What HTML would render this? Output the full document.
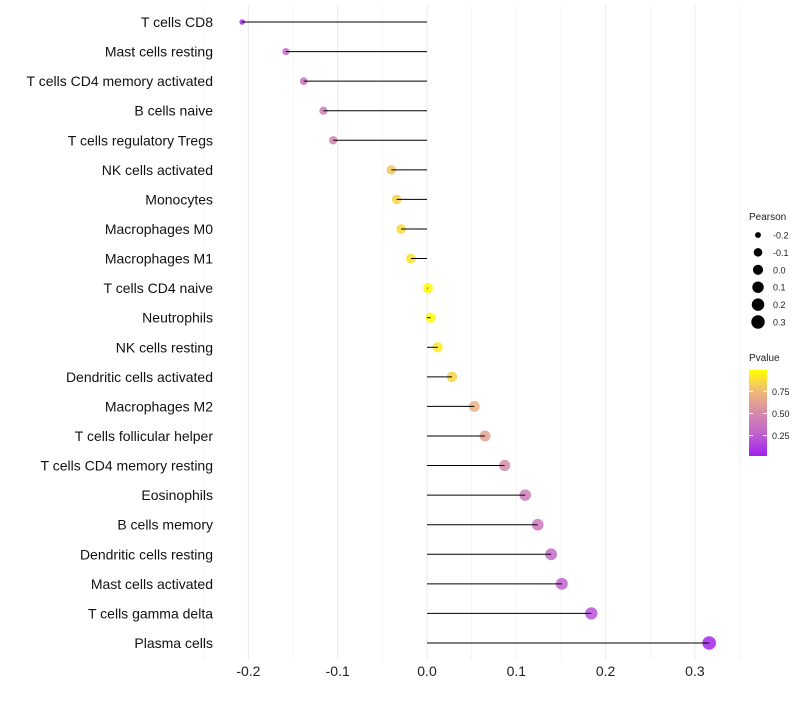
<!DOCTYPE html>
<html><head><meta charset="utf-8"><style>
body{margin:0;background:#fff;font-family:"Liberation Sans",sans-serif}
svg text{font-family:"Liberation Sans",sans-serif}
</style></head><body>
<svg id="c" width="800" height="700"></svg>
<script>
const categories=["T cells CD8","Mast cells resting","T cells CD4 memory activated","B cells naive","T cells regulatory  Tregs","NK cells activated","Monocytes","Macrophages M0","Macrophages M1","T cells CD4 naive","Neutrophils","NK cells resting","Dendritic cells activated","Macrophages M2","T cells follicular helper","T cells CD4 memory resting","Eosinophils","B cells memory","Dendritic cells resting","Mast cells activated","T cells gamma delta","Plasma cells"];
const pearson=[-0.207,-0.158,-0.138,-0.116,-0.105,-0.040,-0.034,-0.029,-0.018,0.001,0.004,0.012,0.028,0.053,0.065,0.087,0.110,0.124,0.139,0.151,0.184,0.316];
const pvalue=[0.05,0.3,0.35,0.42,0.45,0.8,0.85,0.87,0.9,0.99,0.98,0.93,0.85,0.7,0.63,0.5,0.42,0.38,0.3,0.27,0.2,0.02];
const xTicks=[-0.2,-0.1,0.0,0.1,0.2,0.3];
const sizeLegend=[-0.2,-0.1,0.0,0.1,0.2,0.3];
const pTicks=[0.25,0.5,0.75];
const NS="http://www.w3.org/2000/svg";
const svg=document.getElementById('c');
function mk(t,a,p){const e=document.createElementNS(NS,t);for(const k in a)e.setAttribute(k,a[k]);(p||svg).appendChild(e);return e;}
const x=v=>427+v*893;
const y=i=>22+i*29.57;
const r=v=>2+Math.sqrt(Math.max(0,(v+0.22)/0.54))*4.8;
const stops=[[0,[160,32,240]],[0.25,[192,96,208]],[0.5,[214,138,170]],[0.75,[240,184,120]],[1,[255,255,0]]];
function col(p){p=Math.max(0,Math.min(1,p));for(let i=1;i<stops.length;i++){if(p<=stops[i][0]){const a=stops[i-1],b=stops[i],t=(p-a[0])/(b[0]-a[0]);return 'rgb('+a[1].map((c,j)=>Math.round(c+(b[1][j]-c)*t)).join(',')+')';}}}
for(let v=-0.25;v<=0.351;v+=0.05){const g=mk('line',{x1:x(v),x2:x(v),y1:5,y2:660,stroke:'#ebebeb','stroke-width':Math.abs((v*20)%2)<0.01?1:0.5});}
xTicks.forEach(v=>{const t=mk('text',{x:x(v),y:676,'text-anchor':'middle','font-size':14,fill:'#222'});t.textContent=v.toFixed(1);});
categories.forEach((c,i)=>{
const t=mk('text',{x:213,y:y(i)+5,'text-anchor':'end','font-size':14,fill:'#111'});t.textContent=c;


const d=mk('circle',{cx:x(pearson[i]),cy:y(i),r:r(pearson[i]),fill:col(pvalue[i]),'fill-opacity':0.85});


const l=mk('line',{x1:x(0),x2:x(pearson[i]),y1:y(i),y2:y(i),stroke:'#000','stroke-width':1});


});
let t=mk('text',{x:749,y:220,'font-size':10,fill:'#222'});t.textContent='Pearson';
sizeLegend.forEach((v,i)=>{const yy=235+i*17.4;
const c=mk('circle',{cx:758,cy:yy,r:r(v),fill:'#000'});
const s=mk('text',{x:773,y:yy+3.5,'font-size':9,fill:'#222'});s.textContent=v.toFixed(1);});
t=mk('text',{x:749,y:361,'font-size':10,fill:'#222'});t.textContent='Pvalue';
const defs=mk('defs',{});const lg=mk('linearGradient',{id:'g',x1:0,y1:1,x2:0,y2:0},defs);
stops.forEach(s=>mk('stop',{offset:s[0],'stop-color':col(s[0])},lg));
const bar=mk('rect',{x:749,y:370,width:18,height:86,fill:'url(#g)'});
const py=p=>456-(p-0.02)/(0.99-0.02)*86;
pTicks.forEach(p=>{mk('line',{x1:749,x2:753,y1:py(p),y2:py(p),stroke:'#fff'});mk('line',{x1:763,x2:767,y1:py(p),y2:py(p),stroke:'#fff'});
const s=mk('text',{x:772,y:py(p)+3.5,'font-size':9,fill:'#222'});s.textContent=p.toFixed(2);});
</script>
</body></html>
